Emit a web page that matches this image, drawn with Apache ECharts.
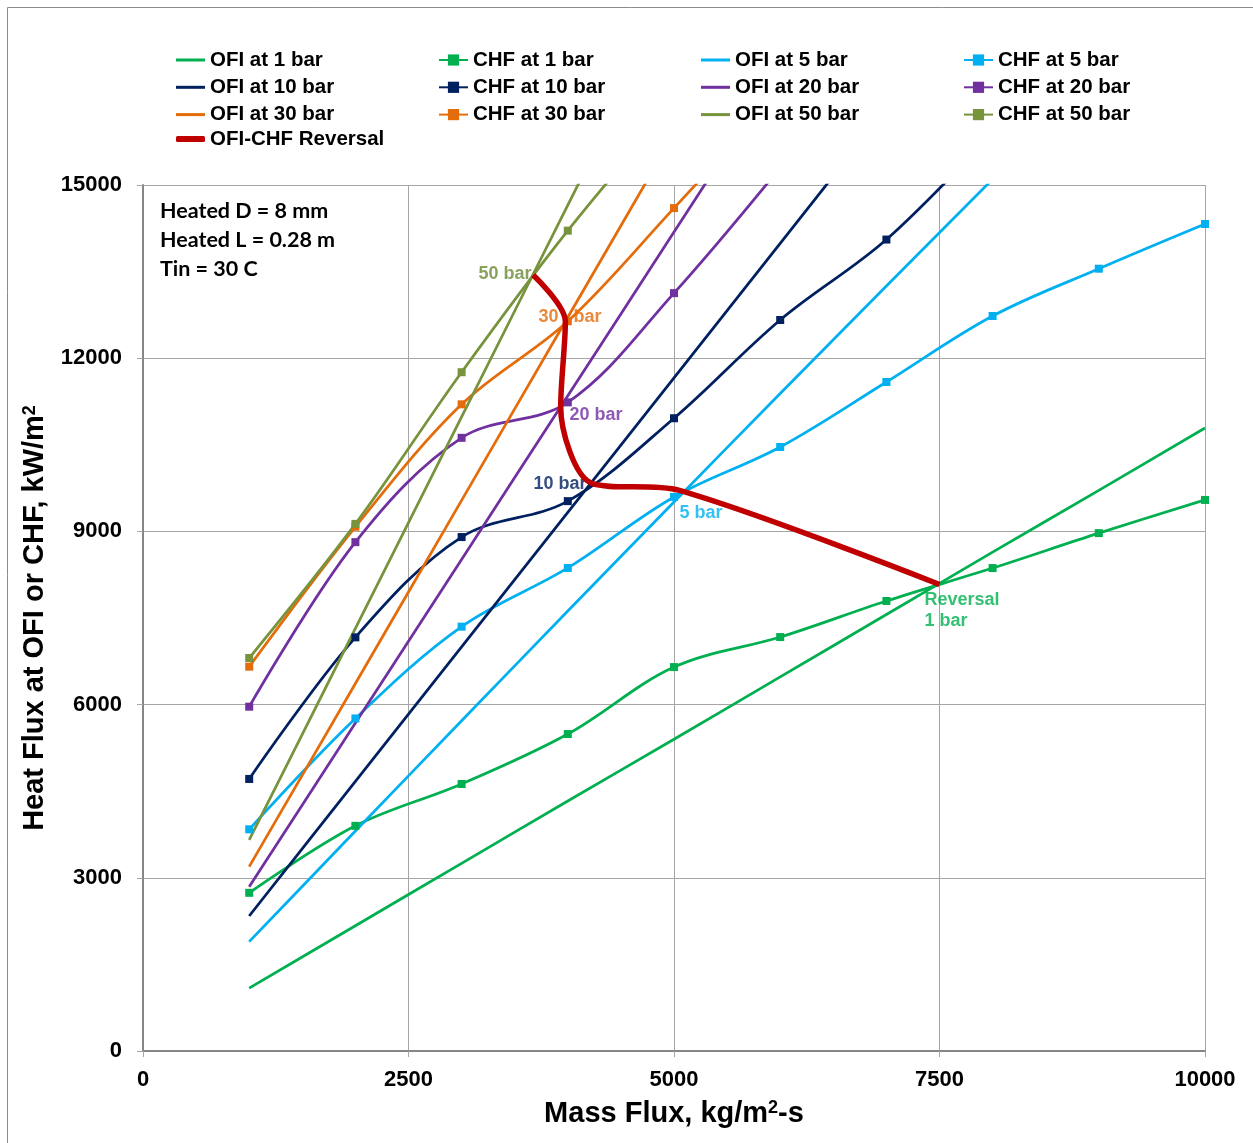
<!DOCTYPE html>
<html><head><meta charset="utf-8">
<script src="https://cdn.jsdelivr.net/npm/echarts@6/dist/echarts.min.js"></script>
<style>html,body{margin:0;padding:0;background:#fff}#c{width:1253px;height:1143px}</style>
</head><body><div id="c"></div>
<script>
// ---- data (kg/m2-s vs kW/m2) ----
const massFlux = [1000, 2000, 3000, 4000, 5000, 6000, 7000, 8000, 9000, 10000];
const ofi1  = [1090, 2170, 3250, 4330, 5400, 6480, 7560, 8640, 9710, 10790];
const chf1  = [2740, 3900, 4625, 5490, 6650, 7170, 7795, 8365, 8970, 9545];
const ofi5  = [1894, 3810, 5720, 7620, 9510, 11390, 13250, 15100];
const chf5  = [3840, 5760, 7350, 8367, 9597, 10462, 11588, 12731, 13550, 14325];
const ofi10 = [2338, 4670, 7000, 9330, 11660, 13990, 16320];
const chf10 = [4712, 7165, 8902, 9524, 10960, 12662, 14055, 15900];
const ofi20 = [2846, 5680, 8515, 11350, 14185, 17020];
const chf20 = [5964, 8814, 10621, 11235, 13127, 15300];
const ofi30 = [3193, 6365, 9537, 12709, 15881];
const chf30 = [6657, 9080, 11201, 12640, 14600, 16600];
const ofi50 = [3655, 7320, 10985, 14650, 18315];
const chf50 = [6807, 9130, 11757, 14209, 16400];
const reversalG = [3674, 3977, 3933, 4225, 5050, 7500];
const reversalQ = [13440, 12637, 11160, 9834, 9710, 8080];
const xTickInterval = 2500, xMax = 10000;
const yTickInterval = 3000, yMax = 15000;
const infoLines = ['Heated D = 8 mm', 'Heated L = 0.28 m', 'Tin = 30 C'];
const annotations = [
  {text: '50 bar', g: 3154, q: 13459, color: '#6A8A35'},
  {text: '30   bar', g: 3719, q: 12714, color: '#E46C0A'},
  {text: '20 bar', g: 4011, q: 11017, color: '#7030A0'},
  {text: '10 bar', g: 3672, q: 9822, color: '#002060'},
  {text: '5 bar', g: 5047, q: 9319, color: '#00B0F0'},
  {text: 'Reversal\n1 bar', g: 7354, q: 7630, color: '#00B050'}
];

const C = {g:'#00B050', b:'#00B0F0', n:'#002060', p:'#7030A0', o:'#E46C0A', v:'#77933C', r:'#C00000'};
const FONT = 'Liberation Sans, Arial, sans-serif';

function pairs(vals) { return vals.map((v, i) => [massFlux[i], v]); }
function ofi(name, color, vals) {
  return {name, type: 'line', data: pairs(vals), smooth: 0.3, symbol: 'none',
    lineStyle: {color, width: 2.75}, itemStyle: {color}, silent: true};
}
function chf(name, color, vals) {
  return {name, type: 'line', data: pairs(vals), smooth: 0.35, symbol: 'rect', symbolSize: 8,
    showSymbol: true, lineStyle: {color, width: 2.75}, itemStyle: {color}, silent: true};
}

const series = [
  ofi('OFI at 1 bar', C.g, ofi1), chf('CHF at 1 bar', C.g, chf1),
  ofi('OFI at 5 bar', C.b, ofi5), chf('CHF at 5 bar', C.b, chf5),
  ofi('OFI at 10 bar', C.n, ofi10), chf('CHF at 10 bar', C.n, chf10),
  ofi('OFI at 20 bar', C.p, ofi20), chf('CHF at 20 bar', C.p, chf20),
  ofi('OFI at 30 bar', C.o, ofi30), chf('CHF at 30 bar', C.o, chf30),
  ofi('OFI at 50 bar', C.v, ofi50), chf('CHF at 50 bar', C.v, chf50),
  {name: 'labels', type: 'scatter', symbolSize: 1, silent: true, itemStyle: {color: 'rgba(0,0,0,0)'},
    data: annotations.map(a => ({value: [a.g, a.q], label: {show: true, position: 'right', distance: 0,
      formatter: a.text, color: a.color, fontFamily: FONT, fontWeight: 'bold', fontSize: 18, lineHeight: 21}}))},
  {name: 'OFI-CHF Reversal', type: 'line', data: reversalG.map((g, i) => [g, reversalQ[i]]),
    smooth: 0.3, symbol: 'none', lineStyle: {color: C.r, width: 5.5}, itemStyle: {color: C.r}, silent: true, z: 5}
];

const legTxt = {fontFamily: FONT, fontWeight: 'bold', fontSize: 20.5, color: '#000'};
function leg(left, top, names, extra) {
  return Object.assign({orient: 'vertical', left, top, padding: 0, itemGap: 6.3, itemWidth: 29, itemHeight: 14,
    data: names, textStyle: legTxt, selectedMode: false}, extra || {});
}

const chart = echarts.init(document.getElementById('c'), null, {renderer: 'canvas'});
chart.setOption({
  animation: false,
  backgroundColor: '#fff',
  legend: [
    leg(176, 49.5, ['OFI at 1 bar', 'OFI at 10 bar', 'OFI at 30 bar'], {icon: 'rect', itemHeight: 3}),
    leg(176, 128.5, ['OFI-CHF Reversal'], {icon: 'roundRect', itemHeight: 6}),
    leg(438, 49.5, ['CHF at 1 bar', 'CHF at 10 bar', 'CHF at 30 bar']),
    leg(701, 49.5, ['OFI at 5 bar', 'OFI at 20 bar', 'OFI at 50 bar'], {icon: 'rect', itemHeight: 3}),
    leg(963, 49.5, ['CHF at 5 bar', 'CHF at 20 bar', 'CHF at 50 bar'])
  ],
  grid: {left: 143, right: 48, top: 185, bottom: 92, containLabel: false},
  xAxis: {
    type: 'value', min: 0, max: xMax, interval: xTickInterval,
    name: 'Mass Flux, kg/m{s|2}-s', nameLocation: 'middle', nameGap: 48,
    nameTextStyle: {fontFamily: FONT, fontWeight: 'bold', fontSize: 29, color: '#000',
      rich: {s: {fontFamily: FONT, fontWeight: 'bold', fontSize: 18, color: '#000', verticalAlign: 'top'}}},
    axisLine: {lineStyle: {color: '#868686', width: 2}},
    axisTick: {show: true, inside: false, length: 6, lineStyle: {color: '#A6A6A6', width: 1}},
    axisLabel: {margin: 18, fontFamily: FONT, fontWeight: 'bold', fontSize: 22, color: '#000', formatter: v => String(v)},
    splitLine: {show: true, lineStyle: {color: '#A6A6A6', width: 1}}
  },
  yAxis: {
    type: 'value', min: 0, max: yMax, interval: yTickInterval,
    name: 'Heat Flux at OFI or CHF, kW/m{s|2}', nameLocation: 'middle', nameGap: 86,
    nameTextStyle: {fontFamily: FONT, fontWeight: 'bold', fontSize: 29, color: '#000',
      rich: {s: {fontFamily: FONT, fontWeight: 'bold', fontSize: 18, color: '#000', verticalAlign: 'top'}}},
    axisLine: {show: true, lineStyle: {color: '#868686', width: 2}},
    axisTick: {show: true, inside: false, length: 6, lineStyle: {color: '#A6A6A6', width: 1}},
    axisLabel: {margin: 21, fontFamily: FONT, fontWeight: 'bold', fontSize: 22, color: '#000', formatter: v => String(v)},
    splitLine: {show: true, lineStyle: {color: '#A6A6A6', width: 1}}
  },
  graphic: [
    {type: 'rect', shape: {x: 7.5, y: 7.5, width: 1300, height: 1200}, style: {fill: 'none', stroke: '#8C8C8C', lineWidth: 1}, silent: true}
  ].concat(infoLines.map((t, i) => ({type: 'text', left: 160, top: 200 + i * 29,
    style: {text: t, fill: '#000', font: 'bold 21.5px Lato, "Open Sans", sans-serif'}, silent: true}))),
  series
});
</script></body></html>
